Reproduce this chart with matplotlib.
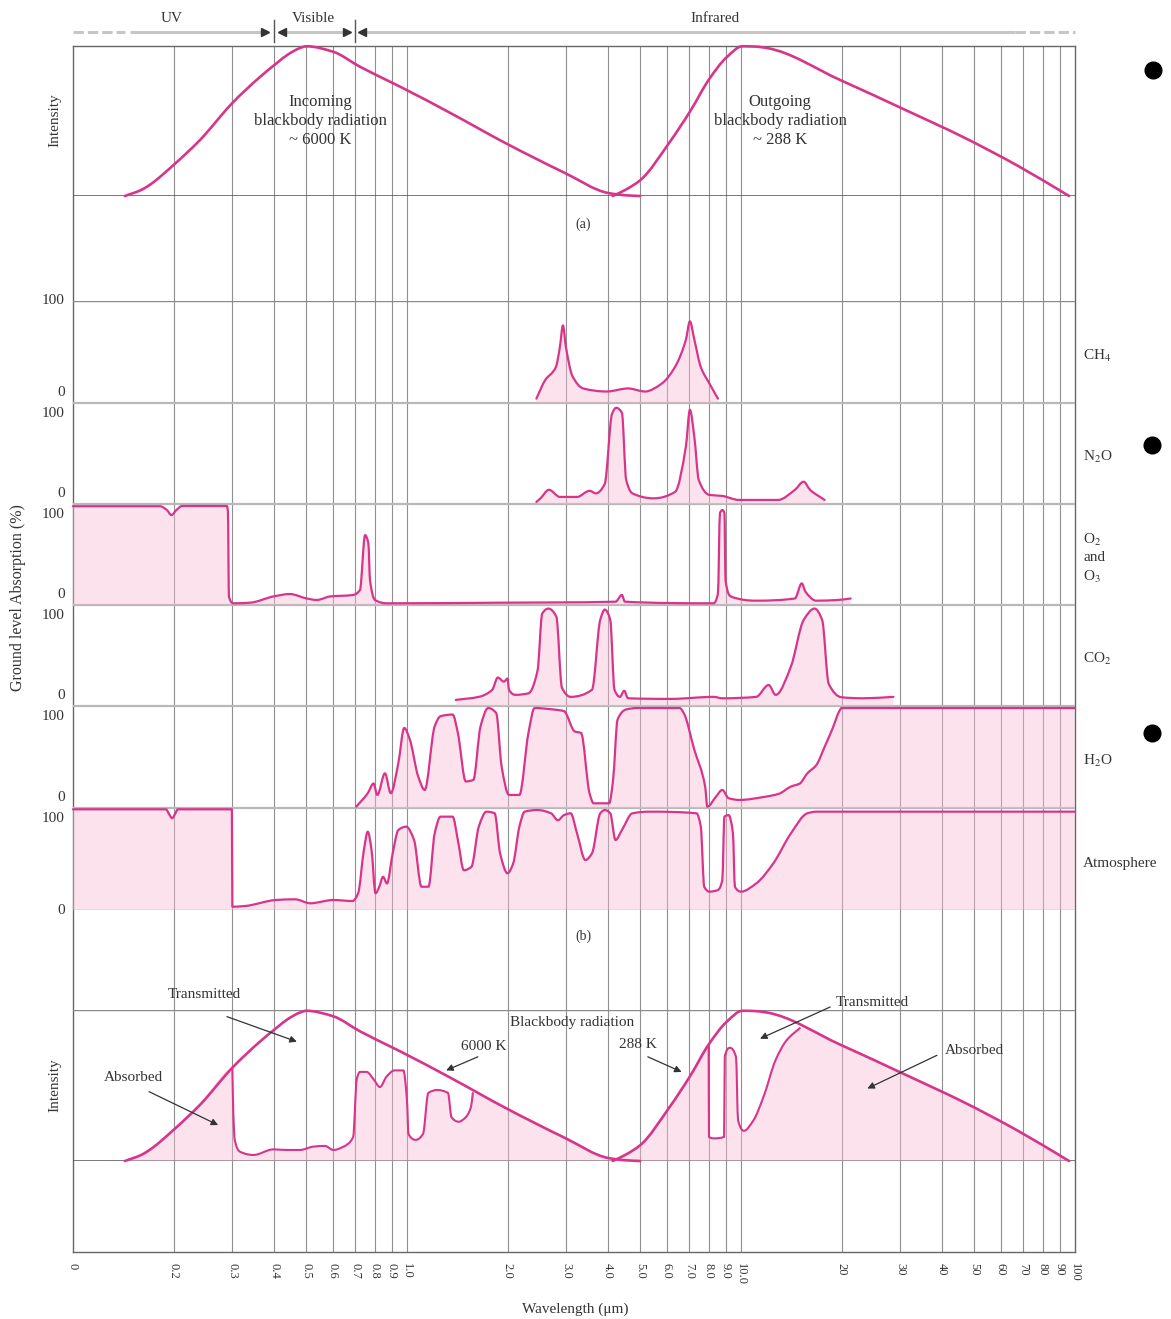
#!/usr/bin/env python3
"""Atmospheric absorption of incoming (6000 K) and outgoing (288 K) blackbody radiation."""

import matplotlib

matplotlib.use("Agg")
import matplotlib.pyplot as plt
import numpy as np
from matplotlib.lines import Line2D
from matplotlib.patches import PathPatch
from matplotlib.path import Path
from matplotlib.ticker import NullLocator

plt.rcParams["font.family"] = ["Liberation Serif", "DejaVu Serif"]
plt.rcParams["mathtext.fontset"] = "stix"

W, H = 1171, 1319
PINK = "#d8358a"
FILL = "#f7bcd6"
FILL_ALPHA = 0.42
INK = "#333333"

# wavelength axis (log scale, 0.1 labelled "0")
TICK_VALUES = [0.1, 0.2, 0.3, 0.4, 0.5, 0.6, 0.7, 0.8, 0.9, 1.0, 2.0, 3.0, 4.0, 5.0, 6.0,
               7.0, 8.0, 9.0, 10.0, 20, 30, 40, 50, 60, 70, 80, 90, 100]
TICK_LABELS = ["0", "0.2", "0.3", "0.4", "0.5", "0.6", "0.7", "0.8", "0.9", "1.0", "2.0",
               "3.0", "4.0", "5.0", "6.0", "7.0", "8.0", "9.0", "10.0", "20", "30", "40",
               "50", "60", "70", "80", "90", "100"]

# blackbody curves, (wavelength um, relative intensity)
SUN_BB = [(0.143, 0.0), (0.16, 0.04), (0.17, 0.075), (0.2, 0.206), (0.24, 0.372),
          (0.3, 0.618), (0.363, 0.791), (0.408, 0.884), (0.44, 0.94), (0.478, 0.983),
          (0.5, 0.995), (0.6, 0.959), (0.723, 0.859), (0.89, 0.759), (0.966, 0.72),
          (1.35, 0.551), (1.97, 0.352), (2.97, 0.153), (4.0, 0.02), (4.5, 0.005), (4.99, 0.0)]
EARTH_BB = [(4.13, 0.0), (4.5, 0.04), (5.0, 0.106), (6.09, 0.352), (7.08, 0.571),
            (8.0, 0.771), (9.08, 0.924), (10.1, 0.995), (11.0, 0.993), (11.97, 0.983),
            (19.8, 0.771), (31.1, 0.571), (46.4, 0.39), (67.5, 0.20), (96.0, 0.0)]

# absorbed part of each blackbody curve in panel (c)
SUN_ABSORBED = [(0.3, 0.61), (0.302, 0.316), (0.305, 0.14), (0.316, 0.062), (0.347, 0.04),
                (0.398, 0.077), (0.436, 0.073), (0.478, 0.073), (0.524, 0.095), (0.568, 0.10),
                (0.602, 0.073), (0.645, 0.095), (0.69, 0.16), (0.707, 0.54), (0.723, 0.59),
                (0.757, 0.59), (0.795, 0.54), (0.83, 0.49), (0.869, 0.56), (0.918, 0.60),
                (0.975, 0.60), (1.0, 0.40), (1.01, 0.18), (1.063, 0.14), (1.117, 0.18),
                (1.158, 0.45), (1.231, 0.47), (1.327, 0.45), (1.359, 0.29), (1.428, 0.26),
                (1.499, 0.29), (1.555, 0.36), (1.574, 0.45)]
EARTH_ABSORBED = [(8.0, 0.77), (8.02, 0.16), (8.3, 0.15), (8.9, 0.16), (8.94, 0.69),
                  (9.27, 0.75), (9.66, 0.69), (9.8, 0.27), (10.2, 0.2), (10.9, 0.27),
                  (11.7, 0.43), (12.7, 0.67), (13.7, 0.80), (15.0, 0.88)]

# ground level absorption (%), (wavelength um, percent)
CH4 = [(2.44, 4), (2.59, 22), (2.79, 35), (2.87, 55), (2.93, 76), (2.99, 55), (3.13, 26),
       (3.37, 14), (3.96, 11), (4.59, 14), (5.16, 11), (5.80, 19), (6.34, 35), (6.84, 62),
       (7.03, 80), (7.25, 62), (7.58, 35), (8.04, 19), (8.53, 4)]
N2O = [(2.44, 2), (2.51, 5.6), (2.66, 14), (2.87, 7), (3.23, 7), (3.52, 13), (3.68, 10.5),
       (3.91, 20), (4.11, 89), (4.23, 95), (4.40, 90), (4.53, 24), (4.73, 10.5), (5.48, 5.6),
       (6.35, 12), (6.84, 57), (7.03, 93), (7.25, 66), (7.47, 24), (8.04, 9), (8.77, 8),
       (9.86, 4), (12.9, 4), (14.5, 14), (15.4, 22), (16.1, 14), (17.8, 4)]
O2_O3 = [(0.1, 97.8), (0.182, 97.8), (0.191, 94), (0.197, 89), (0.204, 94), (0.212, 98),
         (0.289, 98), (0.291, 92), (0.293, 8), (0.302, 1.2), (0.339, 1.8), (0.398, 8),
         (0.446, 10.4), (0.501, 6), (0.537, 4.5), (0.588, 8), (0.690, 9.5), (0.723, 14.4),
         (0.749, 69), (0.766, 61), (0.775, 24), (0.802, 4.5), (0.869, 1.2), (1.90, 1.8),
         (4.21, 2.8), (4.40, 9.5), (4.49, 2.8), (8.28, 1.2), (8.53, 11), (8.65, 91),
         (8.79, 94), (8.92, 91), (8.99, 24), (9.32, 8), (11.1, 3.8), (14.5, 6), (15.2, 21),
         (15.6, 12.7), (16.8, 3.8), (19.5, 4.5), (21.3, 6)]
CO2 = [(1.40, 6), (1.64, 9), (1.80, 16), (1.87, 28), (1.95, 24), (2.00, 27), (2.02, 16),
       (2.11, 11), (2.31, 12.5), (2.46, 35), (2.54, 91), (2.65, 96), (2.80, 88), (2.91, 18),
       (3.09, 9), (3.58, 16), (3.79, 85), (3.91, 95), (4.06, 85), (4.18, 16), (4.34, 9),
       (4.47, 15), (4.59, 7.6), (6.17, 7), (8.28, 9), (8.79, 7.6), (11.1, 9), (12.1, 20.7),
       (12.7, 11), (14.1, 38.7), (15.4, 84.7), (16.6, 96), (17.5, 84.7), (18.3, 22),
       (20.0, 8.6), (23.2, 7.6), (28.6, 9)]
H2O = [(0.705, 1.3), (0.763, 14.5), (0.794, 24), (0.815, 12.8), (0.859, 34), (0.894, 14.5),
       (0.942, 44), (0.981, 78.5), (1.02, 67), (1.08, 31), (1.13, 17.7), (1.21, 80),
       (1.26, 90), (1.37, 91.6), (1.42, 73.6), (1.50, 26), (1.58, 27.6), (1.66, 80),
       (1.75, 98), (1.85, 93), (1.92, 40.7), (2.02, 12.8), (2.17, 12.8), (2.31, 73.6),
       (2.41, 98), (2.74, 96.6), (2.95, 95), (3.18, 75), (3.32, 73.6), (3.52, 14.5),
       (3.62, 4.6), (4.03, 4.6), (4.14, 27.6), (4.27, 86.7), (4.53, 96.6), (4.88, 98),
       (6.55, 98), (6.74, 93), (7.25, 57), (7.81, 21), (7.93, 1.3), (8.41, 11), (8.79, 17.7),
       (9.18, 9.6), (9.89, 7.9), (11.8, 11), (13.0, 14), (14.1, 21), (15.0, 24), (15.8, 34),
       (16.8, 42), (17.8, 60), (18.8, 78), (19.7, 95), (20.0, 98), (100, 98)]
ATMOSPHERE = [(0.1, 98.7), (0.19, 98.7), (0.194, 94), (0.198, 90), (0.202, 94), (0.206, 98.7),
              (0.299, 98.7), (0.300, 3.2), (0.327, 3.9), (0.405, 9.8), (0.462, 10.5),
              (0.513, 6.6), (0.602, 9.8), (0.687, 8.8), (0.714, 16.4), (0.743, 59),
              (0.763, 76.8), (0.783, 59), (0.805, 16.4), (0.826, 22.8), (0.848, 32.6),
              (0.871, 26), (0.906, 55.6), (0.942, 78.4), (0.994, 81.7), (1.05, 68.6),
              (1.105, 22.8), (1.16, 22.8), (1.21, 75), (1.26, 91.5), (1.37, 91.5), (1.42, 68.6),
              (1.48, 39), (1.56, 42.5), (1.64, 81.7), (1.73, 96.4), (1.83, 94.8), (1.90, 55.6),
              (2.00, 36), (2.08, 45.8), (2.17, 81.7), (2.25, 96.4), (2.46, 98), (2.70, 94.8),
              (2.83, 88), (2.95, 93), (3.09, 94.8), (3.23, 75), (3.42, 49), (3.58, 55.6),
              (3.79, 94.8), (3.91, 98), (4.06, 94.8), (4.21, 68.6), (4.40, 78.4), (4.73, 94.8),
              (5.32, 96.4), (7.36, 94.8), (7.58, 81.7), (7.76, 22.8), (8.04, 18), (8.53, 19.6),
              (8.79, 29.4), (8.92, 91.5), (9.18, 93), (9.46, 75), (9.59, 22.8), (10.0, 18),
              (11.1, 26), (12.5, 45.8), (14.1, 75), (15.8, 94.8), (16.8, 96.4), (100, 96.4)]

STRIP_LABELS = ["CH$_4$", "N$_2$O", "O$_2$\nand\nO$_3$", "CO$_2$", "H$_2$O", "Atmosphere"]
STRIP_DATA = [CH4, N2O, O2_O3, CO2, H2O, ATMOSPHERE]


def fig_text(fig, x, y, s, **kw):
    kw.setdefault("color", INK)
    return fig.text(x / W, 1 - y / H, s, **kw)


def smooth_path(data, close=False):
    """Monotone cubic (PCHIP-style) Bezier path through the points, in log-wavelength."""
    arr = np.asarray(data, dtype=float)
    u, v = np.log10(arr[:, 0]), arr[:, 1]
    h = np.diff(u)
    d = np.diff(v) / h
    m = np.zeros_like(v)
    m[0], m[-1] = d[0], d[-1]
    for k in range(1, len(v) - 1):
        if d[k - 1] * d[k] > 0:
            w1 = 2 * h[k] + h[k - 1]
            w2 = h[k] + 2 * h[k - 1]
            m[k] = (w1 + w2) / (w1 / d[k - 1] + w2 / d[k])
    verts = [(u[0], v[0])]
    for k in range(len(u) - 1):
        verts += [(u[k] + h[k] / 3, v[k] + m[k] * h[k] / 3),
                  (u[k + 1] - h[k] / 3, v[k + 1] - m[k + 1] * h[k] / 3),
                  (u[k + 1], v[k + 1])]
    verts = np.array(verts)
    verts[:, 0] = 10 ** verts[:, 0]
    codes = [Path.MOVETO] + [Path.CURVE4] * (len(verts) - 1)
    if close:
        verts = np.vstack([verts, [[arr[-1, 0], 0], [arr[0, 0], 0], [arr[0, 0], 0]]])
        codes += [Path.LINETO, Path.LINETO, Path.CLOSEPOLY]
    return Path(verts, codes)


def draw_curve(ax, data, lw):
    ax.add_patch(PathPatch(smooth_path(data), fill=False, edgecolor=PINK, lw=lw,
                           capstyle="round", joinstyle="round", clip_on=False, zorder=3))


def draw_fill(ax, data):
    ax.add_patch(PathPatch(smooth_path(data, close=True), facecolor=FILL, alpha=FILL_ALPHA,
                           lw=0, clip_on=False, zorder=1))


def add_log_axes(fig, top, bottom, ylim):
    ax = fig.add_axes([73 / W, 1 - bottom / H, 1002 / W, (bottom - top) / H])
    ax.set_xscale("log")
    ax.set_xlim(0.1, 100)
    ax.set_ylim(*ylim)
    ax.set_axis_off()
    ax.patch.set_alpha(0)
    return ax


def draw_frame(fig):
    ax = fig.add_axes([73 / W, 1 - 1252 / H, 1002 / W, (1252 - 45.5) / H])
    ax.set_xscale("log")
    ax.set_xlim(0.1, 100)
    ax.set_ylim(0, 1)
    ax.set_yticks([])
    ax.set_xticks(TICK_VALUES, TICK_LABELS)
    ax.xaxis.set_minor_locator(NullLocator())
    ax.tick_params(axis="x", length=0, pad=8, labelsize=9, labelrotation=-90, labelcolor=INK)
    for v in TICK_VALUES[1:-1]:
        ax.axvline(v, color="#8f8f8f", lw=0.8, zorder=0)
    for s in ax.spines.values():
        s.set_color("#666666")
        s.set_linewidth(1.0)


def draw_band(fig):
    ax = add_log_axes(fig, 10, 42, (0, 1))
    y = 0.32
    gray = "#c6c6c6"
    ax.plot([0.1, 0.143], [y, y], color=gray, lw=2.2, ls=(0, (3.4, 1.3)), clip_on=False)
    ax.plot([66, 100], [y, y], color=gray, lw=2.2, ls=(0, (3.4, 1.3)), clip_on=False)
    for a, b in [(0.148, 0.383), (0.415, 0.665), (0.73, 66)]:
        ax.plot([a, b], [y, y], color=gray, lw=2.2, solid_capstyle="butt", clip_on=False)
    for v in (0.4, 0.7):
        ax.plot([v, v], [0, 0.69], color="#555555", lw=1, clip_on=False)
    ax.plot([0.377, 0.661], [y, y], ls="none", marker=">", ms=6, color="#333333", clip_on=False)
    ax.plot([0.422, 0.735], [y, y], ls="none", marker="<", ms=6, color="#333333", clip_on=False)
    fig_text(fig, 172, 18, "UV", ha="center", va="center", fontsize=11)
    fig_text(fig, 313, 18, "Visible", ha="center", va="center", fontsize=11)
    fig_text(fig, 715, 18, "Infrared", ha="center", va="center", fontsize=11)


def draw_panel_a(fig):
    ax = add_log_axes(fig, 45.5, 196, (0, 1))
    ax.axhline(0, color="#555555", lw=1.1, zorder=0.5)
    draw_curve(ax, SUN_BB, 1.9)
    draw_curve(ax, EARTH_BB, 1.9)
    ax.text(0.55, 0.5, "Incoming\nblackbody radiation\n~ 6000 K", ha="center", va="center",
            fontsize=12, linespacing=1.25, color=INK)
    ax.text(13.1, 0.5, "Outgoing\nblackbody radiation\n~ 288 K", ha="center", va="center",
            fontsize=12, linespacing=1.25, color=INK)
    fig_text(fig, 583, 224, "(a)", ha="center", va="center", fontsize=10)


def draw_strips(fig):
    edges = [301, 402.7, 504, 604.5, 706, 808, 910]
    n = len(STRIP_DATA)
    for i, (label, data) in enumerate(zip(STRIP_LABELS, STRIP_DATA)):
        top, bottom = edges[i], edges[i + 1]
        ax = add_log_axes(fig, top, bottom, (0, 100))
        line_top = "#8a8a8a" if i == 0 else "#b8b8b8"
        line_bot = "#8a8a8a" if i == n - 1 else "#b8b8b8"
        ax.axhline(100, color=line_top, lw=1.0 if i == 0 else 1.6, zorder=0.5)
        ax.axhline(0, color=line_bot, lw=1.0 if i == n - 1 else 1.6, zorder=0.5)
        draw_fill(ax, data)
        draw_curve(ax, data, 1.6)
        lx = -8 / 1002
        ax.annotate("100", xy=(lx, 100), xycoords=("axes fraction", "data"),
                    xytext=(0, 0 if i == 0 else -7.6), textcoords="offset points",
                    ha="right", va="center", fontsize=11, color=INK)
        ax.annotate("0", xy=(lx, 0), xycoords=("axes fraction", "data"),
                    xytext=(0, 0 if i == n - 1 else 7.5), textcoords="offset points",
                    ha="right", va="center", fontsize=11, color=INK)
        fig_text(fig, 1083, (top + bottom) / 2 + 4, label, ha="left", va="center",
                 fontsize=11, linespacing=1.35)
    fig_text(fig, 583, 936, "(b)", ha="center", va="center", fontsize=10)


def draw_panel_c(fig):
    ax = add_log_axes(fig, 1010, 1161, (0, 1))
    ax.axhline(1, color="#8a8a8a", lw=1.0, zorder=0.5)
    ax.axhline(0, color="#555555", lw=1.1, zorder=0.5)
    sun = np.array(SUN_BB)
    earth = np.array(EARTH_BB)
    left = np.vstack([sun[sun[:, 0] < 0.3], SUN_ABSORBED, sun[sun[:, 0] > 1.6]])
    right = np.vstack([earth[earth[:, 0] < 8.0], EARTH_ABSORBED, earth[earth[:, 0] > 15.0]])
    draw_fill(ax, left)
    draw_fill(ax, right)
    draw_curve(ax, SUN_BB, 1.9)
    draw_curve(ax, EARTH_BB, 1.9)
    draw_curve(ax, SUN_ABSORBED, 1.5)
    draw_curve(ax, EARTH_ABSORBED, 1.5)

    notes = [
        ("Transmitted", (0.247, 1.10), "center", (0.289, 0.956), (0.468, 0.79)),
        ("Absorbed", (0.152, 0.55), "center", (0.169, 0.459), (0.272, 0.238)),
        ("6000 K", (1.70, 0.76), "center", (1.63, 0.69), (1.31, 0.60)),
        ("288 K", (4.92, 0.77), "center", (5.26, 0.69), (6.64, 0.59)),
        ("Transmitted", (19.2, 1.05), "left", (18.5, 1.02), (11.4, 0.81)),
        ("Absorbed", (40.7, 0.73), "left", (38.6, 0.70), (23.9, 0.48)),
    ]
    for text, pos, ha, tail, head in notes:
        ax.text(*pos, text, ha=ha, va="center", fontsize=11, color=INK, clip_on=False)
        ax.annotate("", xy=head, xytext=tail, annotation_clip=False,
                    arrowprops=dict(arrowstyle="-|>", color="#333333", lw=0.9,
                                    shrinkA=0, shrinkB=0, mutation_scale=10))
    ax.text(3.12, 0.92, "Blackbody radiation", ha="center", va="center", fontsize=11,
            color=INK, clip_on=False)


def main():
    fig = plt.figure(figsize=(W / 100, H / 100), dpi=100)
    draw_frame(fig)
    draw_band(fig)
    draw_panel_a(fig)
    draw_strips(fig)
    draw_panel_c(fig)

    fig_text(fig, 55, 120, "Intensity", rotation=90, ha="center", va="center", fontsize=11)
    fig_text(fig, 55, 1085, "Intensity", rotation=90, ha="center", va="center", fontsize=11)
    fig_text(fig, 18, 598, "Ground level Absorption (%)", rotation=90, ha="center",
             va="center", fontsize=11.5)
    fig_text(fig, 575, 1309, "Wavelength (\u03bcm)", ha="center", va="center", fontsize=11)

    for x, y in [(1153, 70), (1152, 445), (1152, 733)]:
        fig.add_artist(Line2D([x / W], [1 - y / H], marker="o", ms=12, color="black",
                              transform=fig.transFigure))

    fig.savefig("out.png", dpi=100)
    plt.close(fig)


if __name__ == "__main__":
    main()
